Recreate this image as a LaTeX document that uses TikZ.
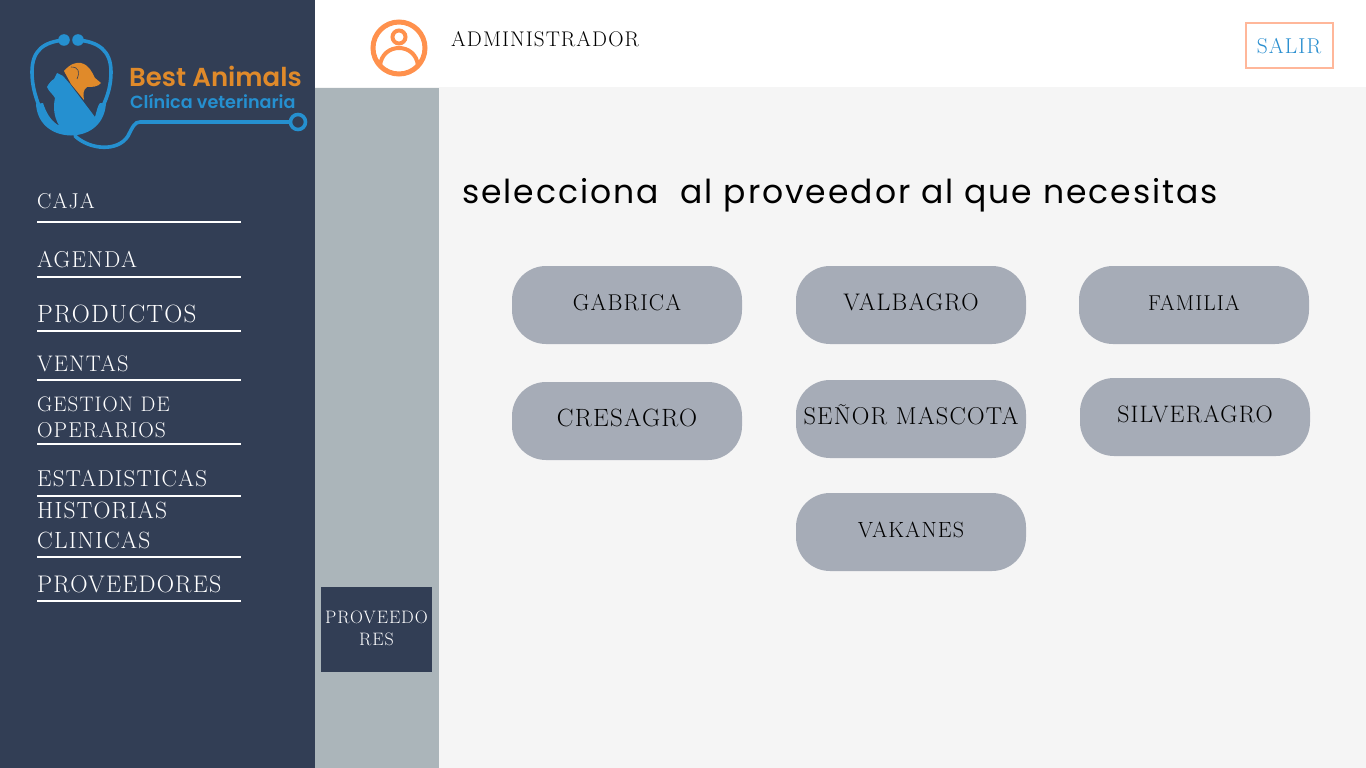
\documentclass[tikz,border=0pt]{standalone}
\usepackage{fontspec}
\usepackage{xcolor}
\setsansfont{Poppins}
\newfontfamily\decofont[LetterSpace=5]{Latin Modern Roman}
\newfontfamily\titlefont[LetterSpace=6]{Poppins}
\newfontfamily\logofont{Poppins SemiBold}
\usetikzlibrary{positioning}
\definecolor{sidebarcol}{HTML}{323E55}
\definecolor{stripcol}{HTML}{ABB5BA}
\definecolor{pagecol}{HTML}{F5F5F5}
\definecolor{btncol}{HTML}{A6ACB7}
\definecolor{userorange}{HTML}{FF914D}
\definecolor{salirblue}{HTML}{2A8FD0}
\definecolor{logoblue}{HTML}{2590D0}
\definecolor{logoorange}{HTML}{E08A2A}
\definecolor{salirline}{HTML}{FFB79A}
\tikzset{
    menutext/.style={anchor=base west,inner sep=0pt,text=white,align=left},
    menuline/.style={draw=white,line width=2pt},
    optbtn/.style={fill=btncol,rounded corners=34pt,minimum width=230pt,minimum height=78pt,inner sep=0pt},
    opttext/.style={inner sep=0pt,anchor=base,text=black},
    logotube/.style={draw=logoblue,line width=3.6pt,line cap=round}
}
\newcommand{\deco}[1]{\fontsize{#1}{#1}\selectfont\decofont}
\begin{document}
\begin{tikzpicture}[x=1pt,y=-1pt]
    \useasboundingbox (0,0) rectangle (1366,768);
    % Page areas
    \fill[pagecol] (0,0) rectangle (1366,768);
    \fill[white] (315,0) rectangle (1366,87);
    \fill[stripcol] (315,88) rectangle (439,768);
    \fill[sidebarcol] (0,0) rectangle (315,768);

    % Logo
    \draw[logotube] (64,40) .. controls (44,42) and (32,50) .. (32,72) .. controls (32,85) and (35,95) .. (39,106);
    \draw[logotube] (78,40) .. controls (98,42) and (111,50) .. (111,72) .. controls (111,85) and (108,95) .. (103,106);
    \fill[logoblue] (64,40) circle (5.8);
    \fill[logoblue] (78,40) circle (5.8);
    % bowl
    \fill[logoblue] (36,104) -- (43,103) .. controls (46,112) and (50,120) .. (58,125) -- (95,117) .. controls (97,110) and (98,105) .. (100,103) -- (106,103) .. controls (105,122) and (92,135) .. (71,135.5) .. controls (50,135) and (37,122) .. (36,104) -- cycle;
    % cat
    \fill[logoblue] (47,87) .. controls (49,83) and (52,80) .. (54,79) -- (57,73) -- (63,76) -- (70,84) -- (95,117) -- (92,126) -- (60,127) .. controls (52,115) and (54,103) .. (55,98) .. controls (53,94) and (49,92) .. (47,87) -- cycle;
    % dog
    \fill[logoorange] (64,71) .. controls (70,64) and (76,62) .. (81,63) .. controls (89,65) and (92,72) .. (95,78) -- (101,83) .. controls (98,87) and (92,87) .. (87,87) .. controls (83,90) and (83,94) .. (84,100) -- (71,84) -- cycle;
    \draw[sidebarcol,line width=.6pt] (71,67) .. controls (79,67) and (80,72) .. (77,79);
    \draw[logotube] (75,136) .. controls (90,150) and (118,152) .. (128,136) .. controls (133,126) and (135,122) .. (140,122) -- (290,122);
    \draw[logoblue,line width=3.6pt] (298,122) circle (7.5);
    \node[inner sep=0pt,anchor=base west,text=logoorange] (logoname) at (129,87) {\fontsize{26}{30}\selectfont\logofont Best Animals};
    \node[inner sep=0pt,anchor=base west,text=logoblue] (logosub) at (130,108) {\fontsize{17.6}{20}\selectfont\logofont Clínica veterinaria};

    % Menu
    \foreach \y/\name/\txt/\sz in {208/caja/CAJA/21.5, 267/agenda/AGENDA/23, 322/productos/PRODUCTOS/25, 371/ventas/VENTAS/22.5, 411/gestion/GESTION DE/21, 437/operarios/OPERARIOS/21.5, 486/estadisticas/ESTADISTICAS/23, 518/historias/HISTORIAS/23.5, 548/clinicas/CLINICAS/23.5, 592/proveedores/PROVEEDORES/24}
        \node[menutext] (\name) at (37,\y) {\deco{\sz}\txt};
    \foreach \y in {222,277,331,380,444,496,557,601}
        \draw[menuline] (37,\y) -- (241,\y);

    % Header
    \node[circle,draw=userorange,line width=5pt,minimum size=52pt,inner sep=0pt] (usericon) at (399,48) {};
    \node[circle,draw=userorange,line width=4pt,minimum size=13pt,inner sep=0pt] (userhead) at (399,37) {};
    \draw[userorange,line width=4pt] (380,66) .. controls (382,42) and (416,42) .. (418,66);
    \node[inner sep=0pt,anchor=base west] (admin) at (451,47) {\deco{21.2}ADMINISTRADOR};
    \node[draw=salirline,line width=2pt,fill=white,minimum width=87pt,minimum height=45pt,inner sep=0pt] (salirbox) at (1289,46) {};
    \node[inner sep=0pt,anchor=base,text=salirblue] (salir) at (1289,54) {\deco{21.5}SALIR};

    % Active tab
    \node[fill=sidebarcol,minimum width=111pt,minimum height=85pt,inner sep=0pt] (tabbox) at (376.5,629.5) {};
    \node[inner sep=0pt,anchor=base,text=white] (tabtop) at (376.5,623) {\deco{18}PROVEEDO};
    \node[inner sep=0pt,anchor=base,text=white] (tabbot) at (376.5,645) {\deco{18}RES};

    % Title
    \node[inner sep=0pt,anchor=base west] (title) at (462,203) {\fontsize{33}{40}\selectfont\titlefont selecciona\ \ al proveedor al que necesitas};

    % Suppliers
    \foreach \x/\y/\name in {627/305/gabrica, 911/305/valbagro, 1194/305/familia, 627/421/cresagro, 911/419/senor, 1195/417/silveragro, 911/532/vakanes}
        \node[optbtn] (\name) at (\x,\y) {};
    \foreach \x/\y/\name/\txt/\sz in {627/310/tgabrica/GABRICA/22.8, 911/310/tvalbagro/VALBAGRO/24, 1194/310/tfamilia/FAMILIA/21.5, 627/426/tcresagro/CRESAGRO/25, 911/424/tsenor/SEÑOR MASCOTA/24.4, 1195/422/tsilveragro/SILVERAGRO/23.8, 911/537/tvakanes/VAKANES/22}
        \node[opttext] (\name) at (\x,\y) {\deco{\sz}\txt};
\end{tikzpicture}
\end{document}
